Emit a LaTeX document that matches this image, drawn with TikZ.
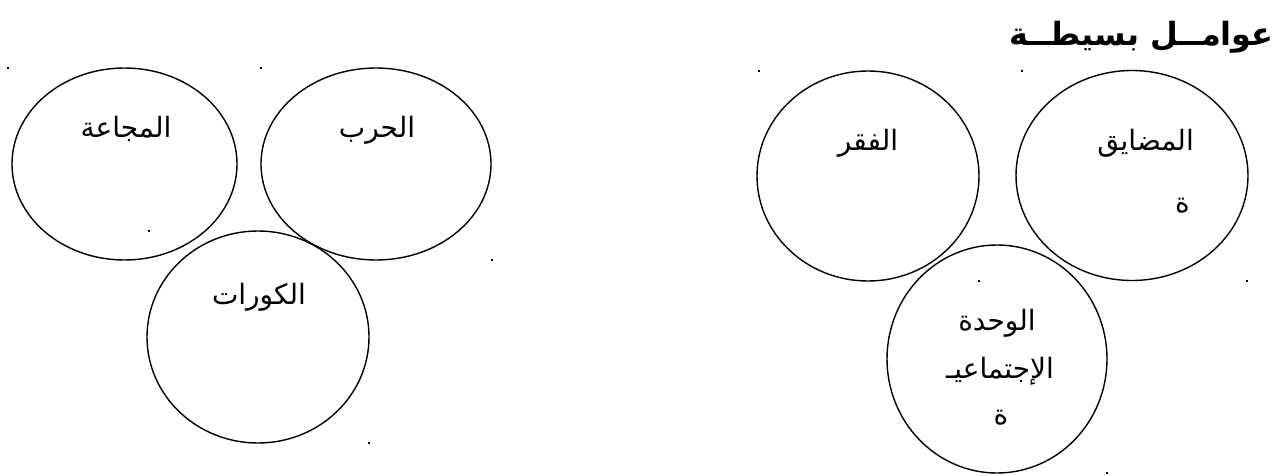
\documentclass[tikz,border=0pt]{standalone}
\usepackage{fontspec}
\usetikzlibrary{shapes.geometric}
\TeXXeTstate=1
\newfontfamily\arabicfont[Script=Arabic]{DejaVu Sans}
\newcommand{\artxt}[1]{\arabicfont\beginR #1\endR}
\tikzset{
  ring/.style={draw=black, line width=1.4pt, ellipse, inner sep=0pt},
  lbl/.style={font=\fontsize{28}{32}\selectfont, inner sep=0pt},
  ttl/.style={font=\fontsize{32}{36}\selectfont\bfseries, inner sep=0pt},
  dotmark/.style={fill=black, inner sep=0pt, minimum size=2pt, rectangle}
}
\begin{document}
\begin{tikzpicture}[x=1pt,y=-1pt]
\useasboundingbox (0,0) rectangle (1284,476);
% circles, left group
\node[ring, minimum width=225pt, minimum height=192pt] (cmaja) at (124.5,164) {};
\node[ring, minimum width=230pt, minimum height=192pt] (charb) at (376,164) {};
\node[ring, minimum width=222pt, minimum height=212pt] (ckur) at (258,337) {};
% circles, right group
\node[ring, minimum width=222pt, minimum height=210pt] (cfaqr) at (868,176) {};
\node[ring, minimum width=232pt, minimum height=210pt] (cmud) at (1132,175.5) {};
\node[ring, minimum width=220pt, minimum height=228pt] (cwah) at (997,359) {};
% title
\node[ttl, anchor=base east] (title) at (1274,46) {\artxt{عوامــل بسيطــة}};
% labels
\node[lbl, anchor=base] (tmaja) at (126,138) {\artxt{المجاعة}};
\node[lbl, anchor=base] (tharb) at (377,138) {\artxt{الحرب}};
\node[lbl, anchor=base] (tkur) at (259,304) {\artxt{الكورات}};
\node[lbl, anchor=base] (tfaqr) at (868,150) {\artxt{الفقر}};
\node[lbl, anchor=base east] (tmud1) at (1194,150) {\artxt{المضايق}};
\node[lbl, anchor=base east] (tmud2) at (1190,212) {\artxt{ة}};
\node[lbl, anchor=base] (twah1) at (997,330) {\artxt{الوحدة}};
\node[lbl, anchor=base] (twah2) at (1000,378) {\artxt{الإجتماعيـ}};
\node[lbl, anchor=base] (twah3) at (1001,424) {\artxt{ة}};
% anchor dots
\node[dotmark] (d1) at (7.5,68) {};
\node[dotmark] (d2) at (261,68) {};
\node[dotmark] (d3) at (149,231) {};
\node[dotmark] (d4) at (492,260) {};
\node[dotmark] (d5) at (369,443) {};
\node[dotmark] (d6) at (759,71) {};
\node[dotmark] (d7) at (1022,71) {};
\node[dotmark] (d8) at (979,281) {};
\node[dotmark] (d9) at (1247,281) {};
\node[dotmark] (d10) at (1107,473) {};
\end{tikzpicture}
\end{document}
